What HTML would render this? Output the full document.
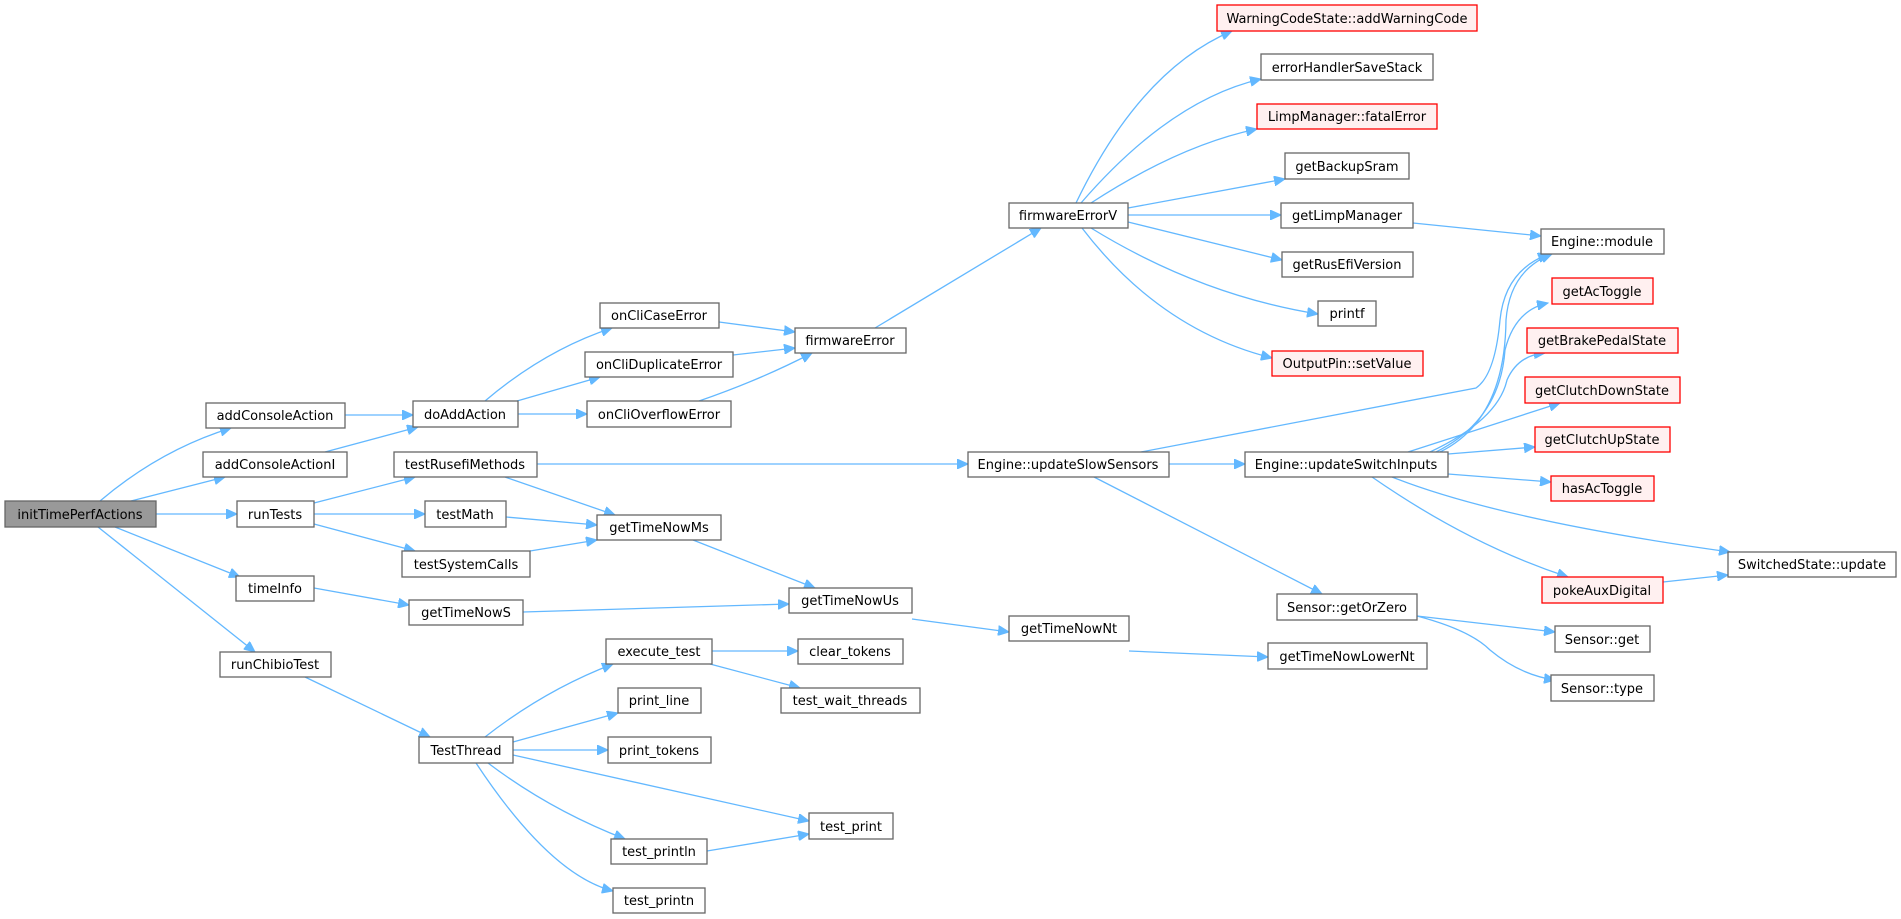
<!DOCTYPE html>
<html><head><meta charset="utf-8"><style>
html,body{margin:0;padding:0;background:#fff;}
svg{display:block;}
text{font-family:"DejaVu Sans","Liberation Sans",sans-serif;font-size:13px;fill:#000;text-anchor:middle;}
.n{fill:#fff;stroke:#666;stroke-width:1.3;}
.r{fill:#fff0f0;stroke:#ff0000;stroke-width:1.3;}
.g{fill:#999;stroke:#666;stroke-width:1.3;}
.e{fill:none;stroke:#63b8ff;stroke-width:1.3;}
</style></head><body>
<svg width="1901" height="919" viewBox="0 0 1901 919" xmlns="http://www.w3.org/2000/svg">
<defs><marker id="a" markerUnits="userSpaceOnUse" markerWidth="12" markerHeight="10" refX="11" refY="5" orient="auto"><path d="M0,0 L11,5 L0,10 z" fill="#63b8ff" stroke="#63b8ff"/></marker></defs>
<g marker-end="url(#a)">
<path class="e" d="M100,501 Q160,450 231,428"/>
<path class="e" d="M131,501 L225,477"/>
<path class="e" d="M156,514 L237,514"/>
<path class="e" d="M115,527 L240,577"/>
<path class="e" d="M98,527 L255,652"/>
<path class="e" d="M345,415 L413,415"/>
<path class="e" d="M325,452 L418,427"/>
<path class="e" d="M485,401 Q545,350 612,328"/>
<path class="e" d="M517,401 L600,377"/>
<path class="e" d="M518,414 L587,414"/>
<path class="e" d="M719,322 L795,332"/>
<path class="e" d="M733,355 L795,348"/>
<path class="e" d="M699,401 Q760,380 812,353"/>
<path class="e" d="M875,328 L1041,228"/>
<path class="e" d="M1076,203 Q1140,70 1232,31"/>
<path class="e" d="M1081,203 Q1170,100 1261,79"/>
<path class="e" d="M1091,203 Q1180,145 1257,129"/>
<path class="e" d="M1128,208 L1285,179"/>
<path class="e" d="M1128,215 L1281,215"/>
<path class="e" d="M1128,222 L1282,260"/>
<path class="e" d="M1091,228 Q1200,295 1318,314"/>
<path class="e" d="M1082,228 Q1160,330 1272,358"/>
<path class="e" d="M1413,223 L1541,236"/>
<path class="e" d="M537,464 L968,464"/>
<path class="e" d="M505,477 L615,515"/>
<path class="e" d="M314,503 L415,477"/>
<path class="e" d="M314,514 L425,514"/>
<path class="e" d="M314,524 L415,551"/>
<path class="e" d="M506,517 L597,525"/>
<path class="e" d="M530,551 L597,540"/>
<path class="e" d="M693,540 L815,588"/>
<path class="e" d="M314,588 L409,605"/>
<path class="e" d="M523,612 L789,604"/>
<path class="e" d="M912,619 L1009,632"/>
<path class="e" d="M1129,651 L1268,657"/>
<path class="e" d="M305,677 L430,737"/>
<path class="e" d="M485,737 Q545,690 613,664"/>
<path class="e" d="M513,742 L618,713"/>
<path class="e" d="M513,750 L608,750"/>
<path class="e" d="M513,755 L809,821"/>
<path class="e" d="M488,763 Q550,810 625,839"/>
<path class="e" d="M476,763 Q550,875 613,891"/>
<path class="e" d="M712,651 L798,651"/>
<path class="e" d="M710,664 L800,688"/>
<path class="e" d="M707,851 L809,834"/>
<path class="e" d="M1169,464 L1245,464"/>
<path class="e" d="M1141,452 L1476,388 Q1495,375 1500,320 Q1505,270 1549,254"/>
<path class="e" d="M1094,477 L1322,594"/>
<path class="e" d="M1440,452 Q1505,420 1506,320 Q1510,270 1552,254"/>
<path class="e" d="M1436,452 Q1500,420 1505,350 Q1515,310 1548,303"/>
<path class="e" d="M1430,452 Q1498,420 1507,380 Q1518,355 1545,353"/>
<path class="e" d="M1408,452 L1560,403"/>
<path class="e" d="M1448,454 L1535,447"/>
<path class="e" d="M1448,474 L1551,482"/>
<path class="e" d="M1392,477 Q1500,520 1730,552"/>
<path class="e" d="M1372,477 Q1470,545 1568,577"/>
<path class="e" d="M1663,582 L1728,575"/>
<path class="e" d="M1417,616 L1555,632"/>
<path class="e" d="M1417,616 Q1470,630 1490,650 Q1520,675 1555,680"/>
</g>
<g>
<rect class="g" x="5" y="501" width="151" height="26"/><text x="80" y="519">initTimePerfActions</text>
<rect class="n" x="206" y="403" width="139" height="25"/><text x="275" y="420">addConsoleAction</text>
<rect class="n" x="203" y="452" width="144" height="25"/><text x="275" y="469">addConsoleActionI</text>
<rect class="n" x="237" y="501" width="77" height="26"/><text x="275" y="519">runTests</text>
<rect class="n" x="236" y="576" width="78" height="25"/><text x="275" y="593">timeInfo</text>
<rect class="n" x="220" y="652" width="111" height="25"/><text x="275" y="669">runChibioTest</text>
<rect class="n" x="413" y="401" width="105" height="26"/><text x="465" y="419">doAddAction</text>
<rect class="n" x="394" y="452" width="143" height="25"/><text x="465" y="469">testRusefiMethods</text>
<rect class="n" x="425" y="501" width="81" height="26"/><text x="465" y="519">testMath</text>
<rect class="n" x="402" y="551" width="128" height="26"/><text x="466" y="569">testSystemCalls</text>
<rect class="n" x="409" y="600" width="114" height="25"/><text x="466" y="617">getTimeNowS</text>
<rect class="n" x="419" y="737" width="94" height="26"/><text x="466" y="755">TestThread</text>
<rect class="n" x="600" y="303" width="119" height="25"/><text x="659" y="320">onCliCaseError</text>
<rect class="n" x="585" y="352" width="148" height="25"/><text x="659" y="369">onCliDuplicateError</text>
<rect class="n" x="587" y="401" width="144" height="26"/><text x="659" y="419">onCliOverflowError</text>
<rect class="n" x="597" y="515" width="124" height="25"/><text x="659" y="532">getTimeNowMs</text>
<rect class="n" x="606" y="639" width="106" height="25"/><text x="659" y="656">execute_test</text>
<rect class="n" x="618" y="688" width="83" height="25"/><text x="659" y="705">print_line</text>
<rect class="n" x="608" y="737" width="103" height="26"/><text x="659" y="755">print_tokens</text>
<rect class="n" x="611" y="839" width="96" height="25"/><text x="659" y="856">test_println</text>
<rect class="n" x="613" y="888" width="92" height="25"/><text x="659" y="905">test_printn</text>
<rect class="n" x="795" y="328" width="111" height="25"/><text x="850" y="345">firmwareError</text>
<rect class="n" x="789" y="588" width="123" height="25"/><text x="850" y="605">getTimeNowUs</text>
<rect class="n" x="798" y="639" width="105" height="25"/><text x="850" y="656">clear_tokens</text>
<rect class="n" x="781" y="688" width="139" height="25"/><text x="850" y="705">test_wait_threads</text>
<rect class="n" x="809" y="813" width="84" height="26"/><text x="851" y="831">test_print</text>
<rect class="n" x="1009" y="203" width="119" height="25"/><text x="1068" y="220">firmwareErrorV</text>
<rect class="n" x="968" y="452" width="201" height="25"/><text x="1068" y="469">Engine::updateSlowSensors</text>
<rect class="n" x="1009" y="616" width="120" height="25"/><text x="1069" y="633">getTimeNowNt</text>
<rect class="r" x="1217" y="5" width="260" height="26"/><text x="1347" y="23">WarningCodeState::addWarningCode</text>
<rect class="n" x="1261" y="54" width="172" height="26"/><text x="1347" y="72">errorHandlerSaveStack</text>
<rect class="r" x="1257" y="104" width="180" height="25"/><text x="1347" y="121">LimpManager::fatalError</text>
<rect class="n" x="1285" y="153" width="124" height="26"/><text x="1347" y="171">getBackupSram</text>
<rect class="n" x="1281" y="203" width="132" height="25"/><text x="1347" y="220">getLimpManager</text>
<rect class="n" x="1282" y="252" width="131" height="25"/><text x="1347" y="269">getRusEfiVersion</text>
<rect class="n" x="1318" y="301" width="58" height="25"/><text x="1347" y="318">printf</text>
<rect class="r" x="1272" y="351" width="151" height="25"/><text x="1347" y="368">OutputPin::setValue</text>
<rect class="n" x="1245" y="452" width="203" height="25"/><text x="1346" y="469">Engine::updateSwitchInputs</text>
<rect class="n" x="1277" y="594" width="140" height="26"/><text x="1347" y="612">Sensor::getOrZero</text>
<rect class="n" x="1268" y="643" width="159" height="26"/><text x="1347" y="661">getTimeNowLowerNt</text>
<rect class="n" x="1541" y="229" width="123" height="25"/><text x="1602" y="246">Engine::module</text>
<rect class="r" x="1552" y="278" width="101" height="26"/><text x="1602" y="296">getAcToggle</text>
<rect class="r" x="1527" y="328" width="151" height="25"/><text x="1602" y="345">getBrakePedalState</text>
<rect class="r" x="1525" y="377" width="155" height="26"/><text x="1602" y="395">getClutchDownState</text>
<rect class="r" x="1535" y="427" width="135" height="25"/><text x="1602" y="444">getClutchUpState</text>
<rect class="r" x="1551" y="476" width="103" height="25"/><text x="1602" y="493">hasAcToggle</text>
<rect class="r" x="1542" y="577" width="121" height="26"/><text x="1602" y="595">pokeAuxDigital</text>
<rect class="n" x="1555" y="626" width="95" height="26"/><text x="1602" y="644">Sensor::get</text>
<rect class="n" x="1551" y="675" width="103" height="26"/><text x="1602" y="693">Sensor::type</text>
<rect class="n" x="1728" y="552" width="168" height="25"/><text x="1812" y="569">SwitchedState::update</text>
</g>
</svg>
</body></html>
